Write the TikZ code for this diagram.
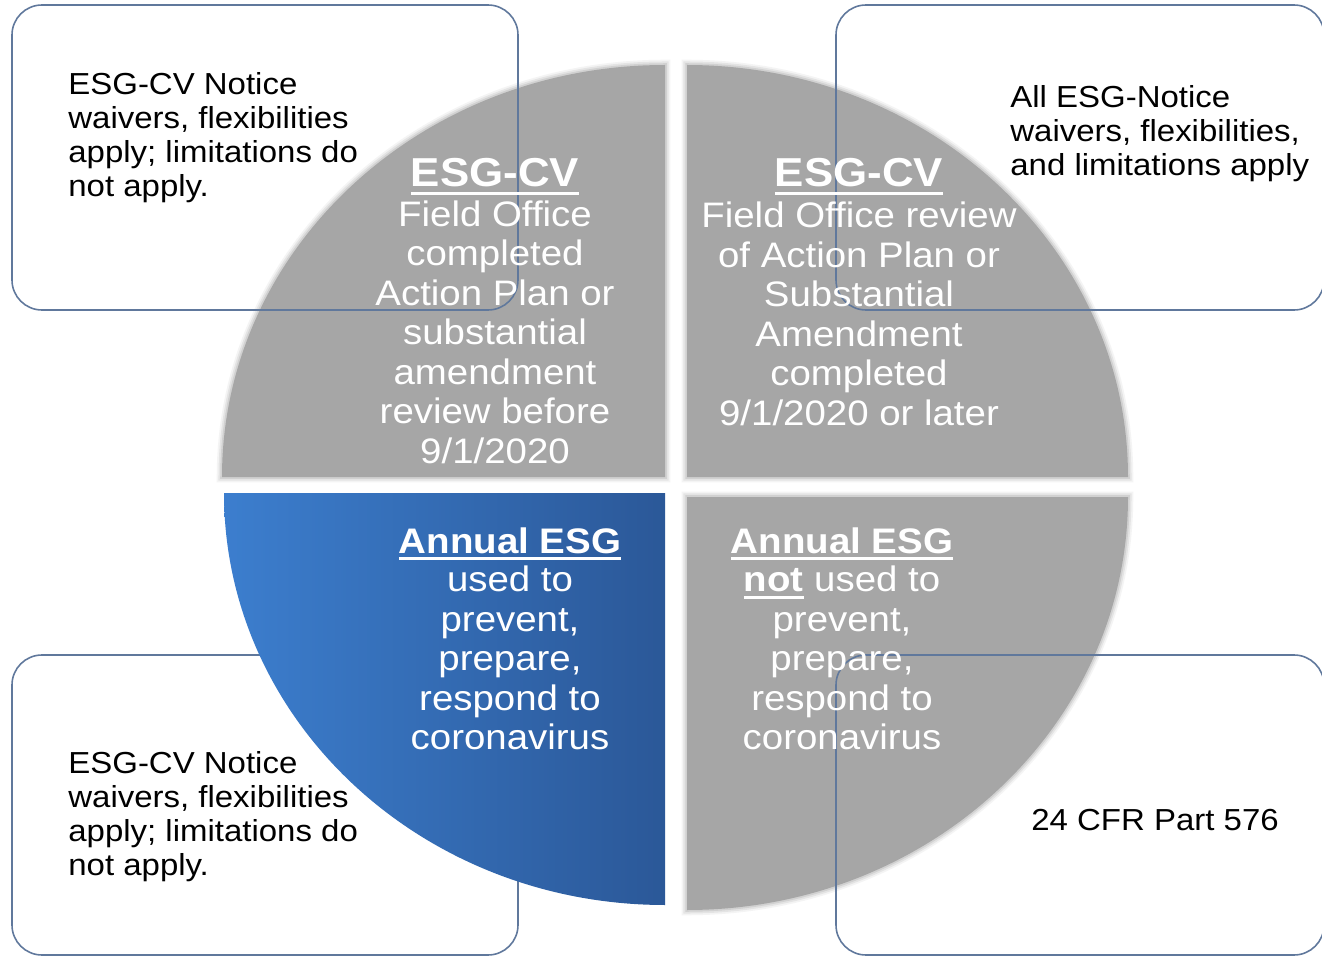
\documentclass[tikz,border=0pt]{standalone}
\usepackage{fontspec}
\setmainfont{Liberation Sans}[FakeStretch=1.085]

\definecolor{quadgray}{RGB}{166,166,166}
\definecolor{quadblueL}{RGB}{60,126,206}
\definecolor{quadblueR}{RGB}{43,88,152}
\definecolor{boxline}{RGB}{96,120,156}

% thick underline for the headings
\newcommand{\ulhead}[1]{\setbox0\hbox{#1}\rlap{\rule[-0.2em]{\wd0}{0.075em}}\box0\relax}

\tikzset{
  quad/.style={fill=quadgray, line join=round,
    preaction={draw=quadgray, draw opacity=0.12, line width=6pt},
    preaction={draw=quadgray, draw opacity=0.2, line width=4pt},
    preaction={draw=quadgray, draw opacity=0.3, line width=2pt}},
  quadblue/.style={left color=quadblueL, right color=quadblueR},
  quadtext/.style={text=white, align=center, inner sep=0pt,
    font=\fontsize{20.15}{22.5}\selectfont},
  quadhead/.style={text=white, inner sep=0pt, anchor=base,
    font=\bfseries\fontsize{#1}{#1}\selectfont},
  quadhead/.default=23,
  notebox/.style={draw=boxline, line width=0.9pt, rounded corners=0.6cm},
  notetext/.style={align=left, inner sep=0pt,
    font=\fontsize{17.3}{19.35}\selectfont},
}

\begin{document}
\begin{tikzpicture}[x=0.02cm, y=0.02cm]
    \fill[white] (0,0) rectangle (1322,958);
    \useasboundingbox (0,0) rectangle (1322,958);

    % lower left box lies under the blue quadrant
    \draw[notebox] (12,3) rectangle (518,303);

    % quadrants
    \path[quad] (665,481) -- (222,481) arc[start angle=180, end angle=90, x radius=443, y radius=412] -- cycle;
    \path[quad] (687,481) -- (687,893) arc[start angle=90, end angle=0, x radius=441, y radius=412] -- cycle;
    \path[quad] (687,461) -- (1128,461) arc[start angle=0, end angle=-90, x radius=441, y radius=413] -- cycle;
    \shade[quadblue] (665,465) -- (224,465) arc[start angle=180, end angle=270, x radius=441, y radius=412] -- cycle;

    % other note boxes
    \draw[notebox] (12,648) rectangle (518,953);
    \draw[notebox] (836,648) rectangle (1324,953);
    \draw[notebox] (836,3) rectangle (1324,303);

    % note texts
    \node[notetext, anchor=west] (tlnote) at (68,820) {ESG-CV Notice\\waivers, flexibilities\\apply; limitations do\\not apply.};
    \node[notetext, anchor=west] (trnote) at (1010,824) {All ESG-Notice\\waivers, flexibilities,\\and limitations apply};
    \node[notetext, anchor=west] (blnote) at (68,141) {ESG-CV Notice\\waivers, flexibilities\\apply; limitations do\\not apply.};
    \node[notetext] (brnote) at (1155,138) {24 CFR Part 576};

    % quadrant texts
    \node[quadhead] (tlhead) at (495,771.5) {\ulhead{ESG-CV}};
    \node[quadtext] (tlbody) at (495,626) {Field Office\\completed\\Action Plan or\\substantial\\amendment\\review before\\9/1/2020};
    \node[quadhead] (trhead) at (859,771.5) {\ulhead{ESG-CV}};
    \node[quadtext] (trbody) at (859,644) {Field Office review\\of Action Plan or\\Substantial\\Amendment\\completed\\9/1/2020 or later};
    \node[quadhead=20.2] (blhead) at (510,405) {\ulhead{Annual ESG}};
    \node[quadtext] (blbody) at (510,300) {used to\\prevent,\\prepare,\\respond to\\coronavirus};
    \node[quadhead=20.2] (brhead) at (842,405) {\ulhead{Annual ESG}};
    \node[quadtext] (brbody) at (842,300) {\ulhead{\textbf{not}} used to\\prevent,\\prepare,\\respond to\\coronavirus};
\end{tikzpicture}
\end{document}
